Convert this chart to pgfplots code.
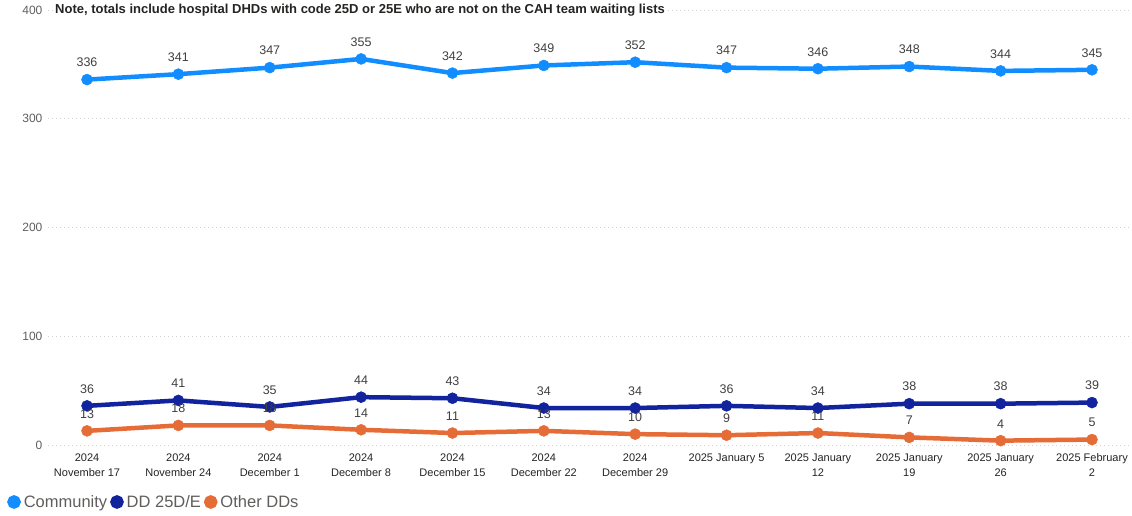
\documentclass[border=0pt]{standalone}
\usepackage{fontspec}
\setmainfont{Liberation Sans}
\usepackage{pgfplots}
\pgfplotsset{compat=1.18}
\definecolor{comm}{HTML}{118DFF}
\definecolor{dd}{HTML}{12239E}
\definecolor{oth}{HTML}{E66C37}
\definecolor{lab}{HTML}{404040}
\definecolor{tickc}{HTML}{605E5C}
\definecolor{xlab}{HTML}{252423}
\begin{document}
\begin{tikzpicture}[x=1pt,y=1pt]
\path[use as bounding box] (0,0) rectangle (1132,515);
\begin{axis}[
  at={(48pt,70pt)}, anchor=south west, scale only axis,
  width=1082pt, height=435pt,
  xmin=-0.427, xmax=11.416, ymin=0, ymax=400,
  axis line style={draw=none}, major tick style={draw=none},
  ytick={0,100,200,300,400}, xtick={0,...,11},
  xticklabels={{2024\\November 17},{2024\\November 24},{2024\\December 1},{2024\\December 8},{2024\\December 15},{2024\\December 22},{2024\\December 29},{2025 January 5},{2025 January\\12},{2025 January\\19},{2025 January\\26},{2025 February\\2}},
  xticklabel style={align=center, font=\fontsize{11}{15}\selectfont, text=xlab, yshift=-3pt},
  yticklabel style={font=\fontsize{12}{14}\selectfont, text=tickc},
  /pgf/number format/assume math mode=true,
  ymajorgrids, grid style={dash pattern=on 1pt off 3pt, color=black!18, line width=0.8pt},
  clip=false,
  line width=4.5pt,
  nodes near coords,
  nodes near coords style={font=\fontsize{12.5}{14}\selectfont, text=lab, anchor=south, yshift=9pt},
  legend columns=-1,
  legend style={at={(axis description cs:-0.0397,-0.131)}, anchor=west, draw=none, fill=none,
    font=\fontsize{16.5}{18}\selectfont, text=tickc, column sep=1pt, inner sep=0pt},
  legend image code/.code={\fill[#1] (4pt,0pt) circle (4.5pt);},
]
\addplot[color=comm, mark=*, mark size=5.5pt, mark options={line width=0.5pt}] coordinates {(0,336)(1,341)(2,347)(3,355)(4,342)(5,349)(6,352)(7,347)(8,346)(9,348)(10,344)(11,345)};
\addlegendentry{Community}
\addplot[color=dd, mark=*, mark size=5.5pt, mark options={line width=0.5pt}] coordinates {(0,36)(1,41)(2,35)(3,44)(4,43)(5,34)(6,34)(7,36)(8,34)(9,38)(10,38)(11,39)};
\addlegendentry{DD 25D/E}
\addplot[color=oth, mark=*, mark size=5.5pt, mark options={line width=0.5pt}] coordinates {(0,13)(1,18)(2,18)(3,14)(4,11)(5,13)(6,10)(7,9)(8,11)(9,7)(10,4)(11,5)};
\addlegendentry{Other DDs}
\end{axis}
\node[anchor=west, fill=white, inner sep=2pt, font=\bfseries\fontsize{13}{15}\selectfont, text=xlab] at (53,505) {Note, totals include hospital DHDs with code 25D or 25E who are not on the CAH team waiting lists};
\end{tikzpicture}
\end{document}
